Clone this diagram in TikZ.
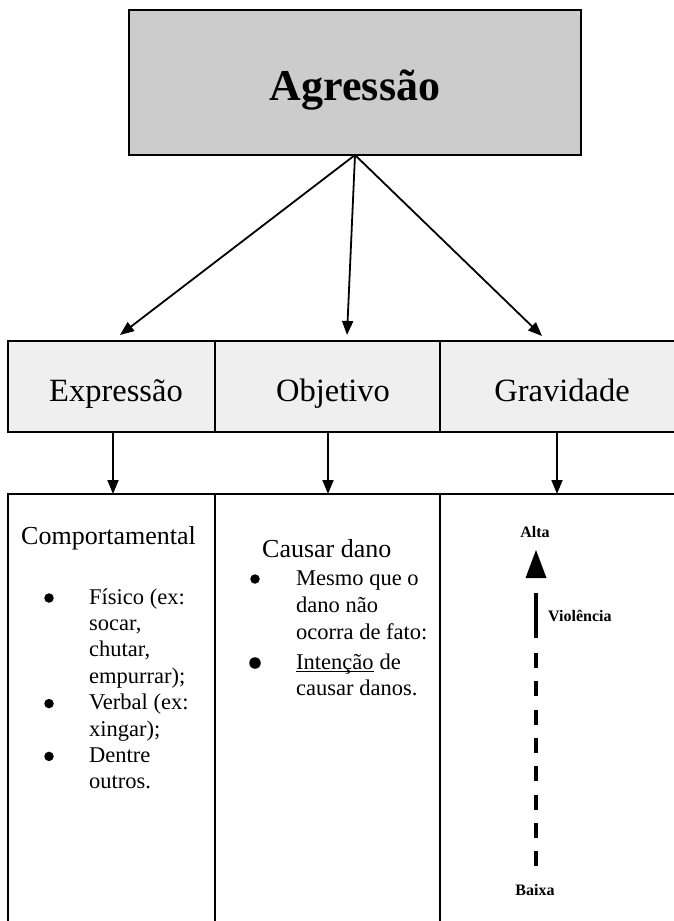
\documentclass[tikz,border=0pt]{standalone}
\usepackage{fontspec}
\setmainfont{Liberation Serif}
\usetikzlibrary{arrows.meta}
\definecolor{topgray}{HTML}{CCCCCC}
\definecolor{rowgray}{HTML}{EFEFEF}
\begin{document}
\begin{tikzpicture}[x=1pt,y=-1pt,
  box/.style={draw=black, line width=2pt, inner sep=0pt, outer sep=0pt},
  colbox/.style={draw=black, line width=1.5pt, inner sep=0pt, outer sep=0pt},
  link/.style={-{Triangle[length=14pt,width=11pt]}, line width=1.8pt},
  head/.style={font=\fontsize{32.5}{32.5}\selectfont, inner sep=0pt, anchor=base},
  lead/.style={font=\fontsize{26}{26}\selectfont, inner sep=0pt, anchor=base west},
  body/.style={font=\fontsize{22.5}{22.5}\selectfont, inner sep=0pt, anchor=base west},
  tag/.style={font=\bfseries\fontsize{16}{16}\selectfont, inner sep=0pt},
  dot/.style={circle, fill=black, inner sep=0pt, minimum size=9.5pt}]
\useasboundingbox (0,0) rectangle (674,921);
\clip (0,0) rectangle (674,921);

% main concept
\node[box, fill=topgray, minimum width=452pt, minimum height=145pt] (top) at (355,82.5) {};
\node[anchor=base, font=\bfseries\fontsize{44}{44}\selectfont, inner sep=0pt] (title) at (355,100) {Agressão};

% three dimensions
\node[box, fill=rowgray, minimum width=207pt, minimum height=91pt] (expr) at (111.5,386.5) {};
\node[box, fill=rowgray, minimum width=225pt, minimum height=91pt] (obj) at (327.5,386.5) {};
\node[box, fill=rowgray, minimum width=240pt, minimum height=91pt] (grav) at (560,386.5) {};
\node[head] (exprlbl) at (116,401) {Expressão};
\node[head] (objlbl) at (333,401) {Objetivo};
\node[head] (gravlbl) at (562,401) {Gravidade};

% detail columns
\node[colbox, minimum width=207pt, minimum height=441pt] (colA) at (111.5,714.5) {};
\node[colbox, minimum width=225pt, minimum height=441pt] (colB) at (327.5,714.5) {};
\node[colbox, minimum width=240pt, minimum height=441pt] (colC) at (560,714.5) {};

% connectors from the main concept
\coordinate (e1) at (120,335);
\coordinate (e2) at (347,335);
\coordinate (e3) at (542,336);
\draw[link] (top.south) -- (e1);
\draw[link] (top.south) -- (e2);
\draw[link] (top.south) -- (e3);

% connectors to the detail columns
\draw[link] ([xshift=1.5pt]expr.south) -- ([xshift=1.5pt]colA.north);
\draw[link] ([xshift=0.5pt]obj.south) -- ([xshift=0.5pt]colB.north);
\draw[link] ([xshift=-3pt]grav.south) -- ([xshift=-3pt]colC.north);

% column 1: expression
\node[lead] (cA) at (21,544) {Comportamental};
\node[dot] (bA1) at (49,598) {};
\node[dot] (bA2) at (49,703.6) {};
\node[dot] (bA3) at (49,756.4) {};
\node[body] (tA1) at (89,604) {Físico (ex:};
\node[body] (tA2) at (89,630.4) {socar,};
\node[body] (tA3) at (89,656.8) {chutar,};
\node[body] (tA4) at (89,683.2) {empurrar);};
\node[body] (tA5) at (89,709.6) {Verbal (ex:};
\node[body] (tA6) at (89,736) {xingar);};
\node[body] (tA7) at (89,762.4) {Dentre};
\node[body] (tA8) at (89,788.8) {outros.};

% column 2: objective
\node[lead] (cB) at (262,557) {Causar dano};
\node[dot] (bB1) at (255,579) {};
\node[dot, minimum size=11.5pt] (bB2) at (255,663) {};
\node[body] (tB1) at (296,585) {Mesmo que o};
\node[body] (tB2) at (296,612) {dano não};
\node[body] (tB3) at (296,639) {ocorra de fato:};
\node[body] (tB4) at (296,669) {Intenção};
\node[body, anchor=base west] (tB4b) at (tB4.base east) {\ de};
\draw[line width=1pt] ([yshift=-2.5pt]tB4.base west) -- ([yshift=-2.5pt]tB4.base east);
\node[body] (tB5) at (296,695) {causar danos.};

% column 3: severity scale
\node[tag] (alta) at (535,532) {Alta};
\node[tag] (baixa) at (535,890) {Baixa};
\node[tag, anchor=west] (viol) at (548,616) {Violência};
\fill (536,550) -- (546.5,578) -- (525.5,578) -- cycle;
\draw[line width=4pt] (536,593) -- (536,638);
\draw[line width=4pt, dash pattern=on 15pt off 13.3pt] (536,653) -- (536,873);
\end{tikzpicture}
\end{document}
